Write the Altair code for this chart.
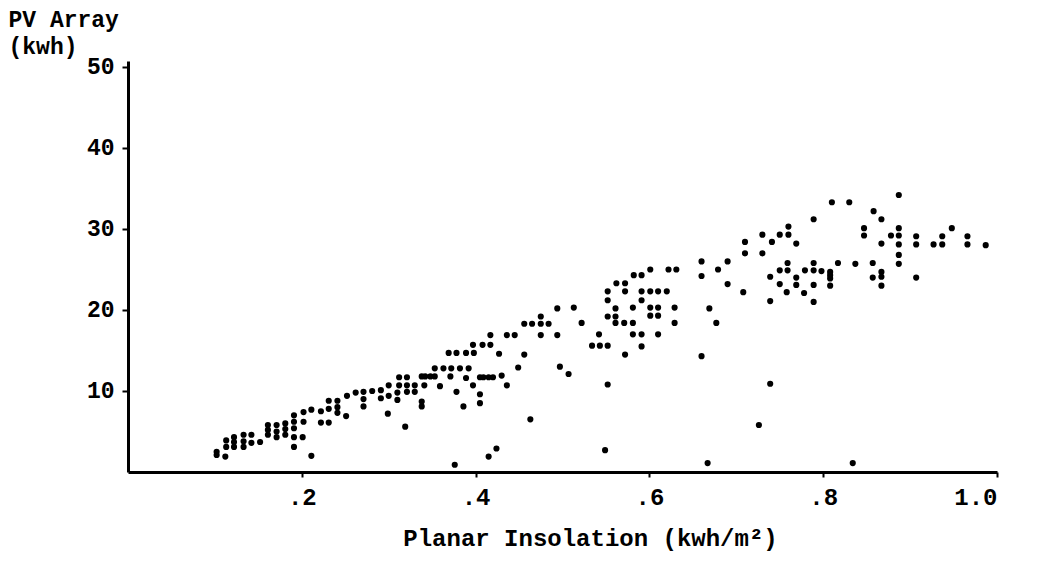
import altair as alt
import pandas as pd

insolation = [
    0.102, 0.102, 0.112, 0.113, 0.113, 0.122, 0.122, 0.122, 0.133, 0.133,
    0.133, 0.142, 0.142, 0.152, 0.161, 0.161, 0.161, 0.171, 0.171, 0.171,
    0.181, 0.181, 0.181, 0.191, 0.191, 0.191, 0.191, 0.191, 0.202, 0.202,
    0.201, 0.211, 0.211, 0.222, 0.222, 0.231, 0.231, 0.231, 0.241, 0.241,
    0.241, 0.251, 0.252, 0.262, 0.271, 0.271, 0.271, 0.281, 0.291, 0.291,
    0.300, 0.300, 0.299, 0.310, 0.310, 0.312, 0.312, 0.319, 0.321, 0.321,
    0.321, 0.330, 0.330, 0.338, 0.338, 0.338, 0.342, 0.348, 0.353, 0.341,
    0.353, 0.359, 0.363, 0.369, 0.371, 0.372, 0.376, 0.378, 0.378, 0.382,
    0.386, 0.389, 0.389, 0.392, 0.397, 0.398, 0.397, 0.405, 0.405, 0.405,
    0.408, 0.409, 0.415, 0.420, 0.415, 0.417, 0.417, 0.424, 0.427, 0.430,
    0.436, 0.445, 0.436, 0.449, 0.456, 0.456, 0.463, 0.465, 0.475, 0.475,
    0.475, 0.484, 0.494, 0.494, 0.497, 0.507, 0.513, 0.522, 0.534, 0.543,
    0.542, 0.549, 0.552, 0.552, 0.552, 0.552, 0.552, 0.561, 0.561, 0.561,
    0.562, 0.572, 0.572, 0.571, 0.572, 0.581, 0.581, 0.581, 0.582, 0.591,
    0.591, 0.591, 0.591, 0.591, 0.601, 0.601, 0.601, 0.601, 0.610, 0.610,
    0.610, 0.610, 0.620, 0.622, 0.631, 0.629, 0.629, 0.660, 0.660, 0.660,
    0.667, 0.669, 0.677, 0.679, 0.690, 0.690, 0.708, 0.710, 0.710, 0.726,
    0.730, 0.730, 0.739, 0.739, 0.739, 0.741, 0.750, 0.750, 0.750, 0.758,
    0.759, 0.759, 0.760, 0.760, 0.769, 0.769, 0.769, 0.778, 0.779, 0.789,
    0.789, 0.789, 0.789, 0.789, 0.798, 0.808, 0.808, 0.808, 0.808, 0.810,
    0.817, 0.830, 0.834, 0.837, 0.847, 0.847, 0.857, 0.857, 0.858, 0.867,
    0.867, 0.867, 0.867, 0.867, 0.878, 0.887, 0.887, 0.887, 0.887, 0.887,
    0.887, 0.907, 0.907, 0.907, 0.927, 0.937, 0.937, 0.948, 0.966, 0.966,
    0.987,
]

pv_array = [
    2.5, 2.1, 1.9, 3.9, 3.1, 4.3, 3.7, 3.1, 4.6, 3.8,
    3.1, 4.6, 3.6, 3.7, 5.8, 5.2, 4.6, 5.8, 5.0, 4.3,
    6.0, 5.3, 4.6, 7.0, 6.2, 5.4, 4.3, 3.1, 7.4, 6.2,
    4.3, 7.7, 2.0, 7.5, 6.1, 8.8, 7.8, 6.1, 8.8, 8.0,
    7.3, 6.9, 9.4, 9.8, 9.9, 9.0, 8.1, 10.0, 10.1, 9.1,
    10.7, 9.4, 7.2, 9.8, 8.9, 11.7, 10.7, 5.6, 11.7, 10.7,
    9.9, 10.7, 9.9, 11.8, 8.7, 8.1, 11.8, 11.8, 11.8, 10.7,
    12.8, 10.6, 12.8, 14.7, 11.8, 12.8, 0.9, 14.7, 9.9, 12.8,
    8.1, 14.7, 11.6, 12.8, 15.7, 14.7, 10.7, 11.7, 9.6, 8.5,
    15.7, 11.7, 11.7, 11.7, 1.9, 16.9, 15.7, 2.9, 14.6, 11.9,
    16.9, 16.9, 10.7, 12.9, 18.3, 14.5, 6.5, 18.3, 19.2, 18.3,
    16.9, 18.3, 20.2, 16.9, 13.0, 12.1, 20.3, 18.4, 15.6, 15.6,
    17.0, 2.7, 22.3, 21.2, 19.2, 15.6, 10.8, 20.2, 19.2, 18.4,
    23.3, 23.3, 22.3, 18.4, 14.5, 20.3, 18.4, 17.0, 24.3, 24.3,
    22.3, 21.2, 17.0, 15.5, 25.0, 22.3, 20.3, 19.3, 22.3, 20.3,
    19.3, 17.0, 22.3, 25.0, 25.0, 20.3, 18.4, 26.0, 24.2, 14.3,
    1.1, 20.2, 18.4, 25.0, 26.0, 23.2, 22.2, 28.4, 27.0, 5.8,
    29.3, 27.0, 24.1, 21.1, 10.9, 28.4, 29.3, 24.9, 23.2, 22.2,
    25.8, 24.9, 30.3, 29.3, 28.2, 24.0, 23.1, 22.1, 24.9, 31.2,
    25.8, 24.9, 23.1, 21.0, 24.8, 24.7, 24.3, 23.9, 23.0, 33.3,
    25.8, 33.3, 1.1, 25.7, 30.1, 29.2, 25.8, 24.0, 32.2, 31.2,
    28.2, 24.7, 24.1, 23.0, 29.2, 34.2, 30.1, 29.2, 28.1, 26.8,
    25.7, 29.1, 28.1, 24.0, 28.1, 29.1, 28.1, 30.1, 29.1, 28.1,
    28.0,
]

x_ticks = [0.2, 0.4, 0.6, 0.8, 1.0]
y_ticks = [10, 20, 30, 40, 50]

df = pd.DataFrame({"insolation": insolation, "pv": pv_array})

FONT = "Liberation Mono"

chart = (
    alt.Chart(df)
    .mark_circle(size=38, color="black", opacity=1)
    .encode(
        x=alt.X(
            "insolation:Q",
            scale=alt.Scale(domain=[0, 1.0], nice=False, zero=False),
            axis=alt.Axis(
                values=x_ticks,
                labelExpr="datum.value >= 1 ? '1.0' : '.' + format(datum.value * 10, 'd')",
                title="Planar Insolation (kwh/m²)",
                titleX=462,
                titleY=54,
                titleAlign="center",
                titleBaseline="top",
                titleFontSize=24,
                labelFontSize=24,
                labelPadding=8,
                tickSize=5,
            ),
        ),
        y=alt.Y(
            "pv:Q",
            scale=alt.Scale(domain=[0, 50.74], nice=False),
            axis=alt.Axis(
                values=y_ticks,
                title=["PV Array", "(kwh)"],
                titleAngle=0,
                titleAlign="left",
                titleBaseline="top",
                titleX=-120,
                titleY=-53,
                titleFontSize=23,
                titleLineHeight=27,
                labelFontSize=23,
                labelPadding=8,
                tickSize=6,
            ),
        ),
    )
    .properties(
        width=869,
        height=411,
        autosize=alt.AutoSizeParams(type="none"),
        padding={"left": 120, "top": 53, "right": 35, "bottom": 86},
    )
    .configure_view(stroke=None)
    .configure_axis(
        grid=False,
        domainColor="black",
        domainWidth=3,
        tickColor="black",
        tickWidth=2,
        labelColor="black",
        titleColor="black",
        labelFont=FONT,
        titleFont=FONT,
        labelFontWeight="bold",
        titleFontWeight="bold",
    )
)

chart.save("out.html", embed_options={"renderer": "svg", "actions": False})
